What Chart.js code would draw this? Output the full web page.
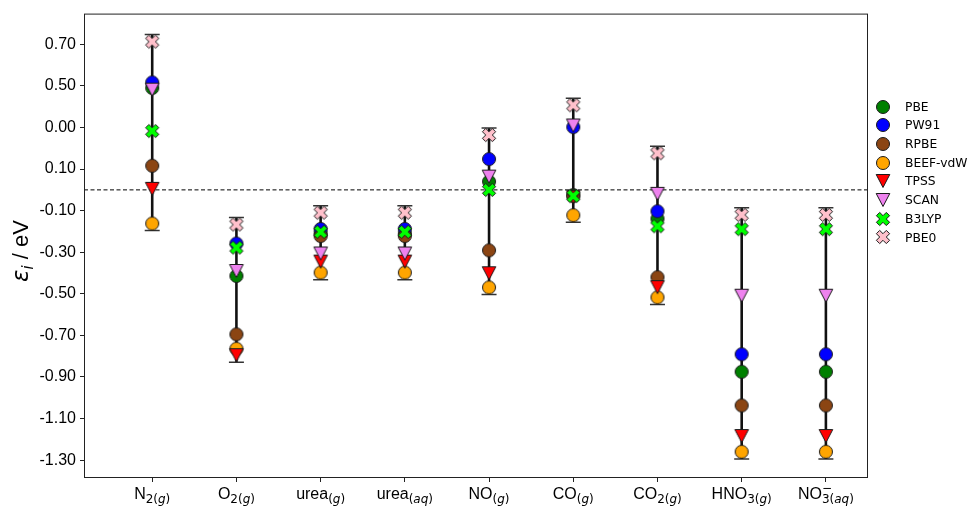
<!DOCTYPE html>
<html>
<head>
<meta charset="utf-8">
<script src="https://cdn.jsdelivr.net/npm/chart.js@4.4.1/dist/chart.umd.min.js"></script>
<style>
  html, body { margin: 0; padding: 0; background: #fff; }
</style>
</head>
<body>
<canvas id="chart" width="969" height="506"></canvas>
<script>
// categories (labels drawn with sub/superscripts below)
var species = ['N2(g)', 'O2(g)', 'urea(g)', 'urea(aq)', 'NO(g)', 'CO(g)', 'CO2(g)', 'HNO3(g)', 'NO3-(aq)'];

// y tick positions and the labels printed on them
var tickVals = [0.7, 0.5, 0.3, 0.1, -0.1, -0.3, -0.5, -0.7, -0.9, -1.1, -1.3];
var tickLabels = ['0.70', '0.50', '0.00', '0.10', '-0.10', '-0.30', '-0.50', '-0.70', '-0.90', '-1.10', '-1.30'];

// eps_i / eV for each functional
var pbe   = [0.490, -0.414, -0.210, -0.210, 0.040, -0.025, -0.139, -0.875, -0.875];
var pw91  = [0.517, -0.258, -0.188, -0.188, 0.148,  0.302, -0.103, -0.791, -0.791];
var rpbe  = [0.116, -0.695, -0.222, -0.222, -0.291, -0.030, -0.420, -1.037, -1.037];
var beef  = [-0.162, -0.764, -0.398, -0.398, -0.469, -0.122, -0.517, -1.260, -1.260];
var tpss  = [0.005, -0.795, -0.345, -0.345, -0.401, -0.035, -0.468, -1.184, -1.184];
var scan  = [0.482, -0.390, -0.306, -0.306, 0.064,  0.310, -0.019, -0.509, -0.509];
var b3lyp = [0.283, -0.278, -0.202, -0.202, 0.000, -0.030, -0.175, -0.189, -0.189];
var pbe0  = [0.713, -0.167, -0.110, -0.110, 0.264,  0.407,  0.176, -0.120, -0.120];

var capPad = 0.034;

function makeMarker(shape, fill) {
  var c = document.createElement('canvas');
  c.width = 20; c.height = 20;
  var g = c.getContext('2d');
  g.translate(10, 10);
  g.fillStyle = fill;
  g.strokeStyle = '#1a1a1a';
  g.lineWidth = 1;
  g.beginPath();
  if (shape == 'circle') {
    g.arc(0, 0, 6.5, 0, Math.PI * 2);
  } else if (shape == 'tri') {
    g.moveTo(-6.8, -6.5); g.lineTo(6.8, -6.5); g.lineTo(0, 6.5); g.closePath();
  } else {
    var pts = [[-1,-3],[1,-3],[1,-1],[3,-1],[3,1],[1,1],[1,3],[-1,3],[-1,1],[-3,1],[-3,-1],[-1,-1]];
    var s = 14 / 6, a = Math.PI / 4;
    for (var k = 0; k < pts.length; k++) {
      var px = pts[k][0] * s, py = pts[k][1] * s;
      var rx = px * Math.cos(a) - py * Math.sin(a);
      var ry = px * Math.sin(a) + py * Math.cos(a);
      if (k == 0) g.moveTo(rx, ry); else g.lineTo(rx, ry);
    }
    g.closePath();
  }
  g.fill();
  g.stroke();
  return c;
}

var series = [
  { name: 'PBE',      data: pbe,   marker: makeMarker('circle', '#008000') },
  { name: 'PW91',     data: pw91,  marker: makeMarker('circle', '#0000ff') },
  { name: 'RPBE',     data: rpbe,  marker: makeMarker('circle', '#8b4513') },
  { name: 'BEEF-vdW', data: beef,  marker: makeMarker('circle', '#ffa500') },
  { name: 'TPSS',     data: tpss,  marker: makeMarker('tri', '#ff0000') },
  { name: 'SCAN',     data: scan,  marker: makeMarker('tri', '#ee82ee') },
  { name: 'B3LYP',    data: b3lyp, marker: makeMarker('x', '#00ff00') },
  { name: 'PBE0',     data: pbe0,  marker: makeMarker('x', '#ffc0cb') }
];

// range of each column for the error bar
var barLines = [], caps = [];
for (var i = 0; i < species.length; i++) {
  var vals = series.map(function(s) { return s.data[i]; });
  var lo = Math.min.apply(null, vals) - capPad;
  var hi = Math.max.apply(null, vals) + capPad;
  barLines.push({ x: i, y: lo }, { x: i, y: hi }, { x: i, y: null });
  caps.push({ x: i, y: lo }, { x: i, y: hi });
}

var datasets = [];
series.forEach(function(s, idx) {
  datasets.push({
    type: 'scatter',
    label: s.name,
    data: s.data.map(function(v, j) { return { x: j, y: v }; }),
    pointStyle: s.marker,
    pointRadius: 7,
    pointHoverRadius: 7,
    order: 8 - idx
  });
});
datasets.push({
  type: 'line', label: 'caps', data: caps, showLine: false,
  pointStyle: 'line', pointRadius: 7.5, pointBorderWidth: 1.5, pointBorderColor: '#333',
  order: 20
});
datasets.push({
  type: 'line', label: 'bars', data: barLines, borderColor: '#111', borderWidth: 2.6,
  pointRadius: 0, spanGaps: false, order: 21
});
datasets.push({
  type: 'line', label: 'zero', data: [{ x: -0.81, y: 0 }, { x: 8.5, y: 0 }],
  borderColor: '#000', borderWidth: 1, borderDash: [4, 2.5], pointRadius: 0, order: 22
});

// rich tick labels: [text, kind] ; m = main, s = sub, si = sub italic, p = superscript (no advance)
var richLabels = [
  [['N','m'],['2(','s'],['g','si'],[')','s']],
  [['O','m'],['2(','s'],['g','si'],[')','s']],
  [['urea','m'],['(','s'],['g','si'],[')','s']],
  [['urea','m'],['(','s'],['aq','si'],[')','s']],
  [['NO','m'],['(','s'],['g','si'],[')','s']],
  [['CO','m'],['(','s'],['g','si'],[')','s']],
  [['CO','m'],['2(','s'],['g','si'],[')','s']],
  [['HNO','m'],['3(','s'],['g','si'],[')','s']],
  [['NO','m'],['\u2212','p'],['3(','s'],['aq','si'],[')','s']]
];

var SANS = '"Liberation Sans", Arial, sans-serif';
var DJV = '"DejaVu Sans", sans-serif';
function fontFor(kind) {
  if (kind == 'm') return '16px ' + SANS;
  if (kind == 'si') return 'italic 12px ' + DJV;
  return '12px ' + DJV;
}

var decor = {
  id: 'decor',
  afterDraw: function(chart) {
    var ctx = chart.ctx, a = chart.chartArea, xs = chart.scales.x;
    ctx.save();
    // frame
    ctx.strokeStyle = '#222';
    ctx.lineWidth = 1;
    ctx.strokeRect(a.left + 0.5, a.top + 0.5, a.right - a.left - 1, a.bottom - a.top - 1);

    // x tick labels
    ctx.fillStyle = '#000';
    ctx.textBaseline = 'alphabetic';
    ctx.textAlign = 'left';
    richLabels.forEach(function(parts, i) {
      var w = 0;
      parts.forEach(function(p) {
        ctx.font = fontFor(p[1]);
        if (p[1] != 'p') w += ctx.measureText(p[0]).width;
      });
      var x = xs.getPixelForValue(i) - w / 2, base = 499;
      parts.forEach(function(p) {
        ctx.font = fontFor(p[1]);
        if (p[1] == 'p') {
          ctx.fillText(p[0], x, base - 7);
        } else if (p[1] == 'm') {
          ctx.fillText(p[0], x, base);
          x += ctx.measureText(p[0]).width;
        } else {
          ctx.fillText(p[0], x, base + 4);
          x += ctx.measureText(p[0]).width;
        }
      });
    });

    // y axis title
    ctx.save();
    ctx.translate(28, 282);
    ctx.rotate(-Math.PI / 2);
    ctx.font = 'italic 23px ' + DJV;
    ctx.fillText('\u03b5', 0, 0);
    var tx = ctx.measureText('\u03b5').width;
    ctx.font = 'italic 15px ' + DJV;
    ctx.fillText('i', tx, 5);
    tx += ctx.measureText('i').width;
    ctx.font = '22px ' + SANS;
    ctx.fillText(' / eV', tx, 0);
    ctx.restore();

    // legend
    ctx.font = '12.3px ' + DJV;
    ctx.textBaseline = 'middle';
    series.forEach(function(s, k) {
      var y = 106.5 + k * 18.7;
      ctx.drawImage(s.marker, 883 - 10, Math.round(y) - 10);
      ctx.fillText(s.name, 905, y + 1);
    });
    ctx.restore();
  }
};

new Chart(document.getElementById('chart'), {
  data: { datasets: datasets },
  options: {
    responsive: false,
    animation: false,
    layout: { padding: { left: 0, top: 10, right: 101, bottom: 0 } },
    plugins: { legend: { display: false }, tooltip: { enabled: false } },
    scales: {
      x: {
        type: 'linear', min: -0.81, max: 8.5,
        afterBuildTicks: function(s) { s.ticks = species.map(function(_, i) { return { value: i }; }); },
        afterFit: function(s) { s.height = 28; },
        ticks: { callback: function() { return ''; }, autoSkip: false },
        grid: { drawOnChartArea: false, drawTicks: true, tickLength: 4, color: '#222' },
        border: { display: false }
      },
      y: {
        type: 'linear', min: -1.386, max: 0.848,
        afterBuildTicks: function(s) { s.ticks = tickVals.map(function(v) { return { value: v }; }); },
        afterFit: function(s) { s.width = 84; },
        ticks: {
          autoSkip: false, color: '#000', padding: 4,
          font: { family: SANS, size: 16 },
          callback: function(v) {
            for (var k = 0; k < tickVals.length; k++) if (Math.abs(tickVals[k] - v) < 1e-6) return tickLabels[k];
            return '';
          }
        },
        grid: { drawOnChartArea: false, drawTicks: true, tickLength: 4, color: '#222' },
        border: { display: false }
      }
    }
  },
  plugins: [decor]
});
</script>
</body>
</html>
